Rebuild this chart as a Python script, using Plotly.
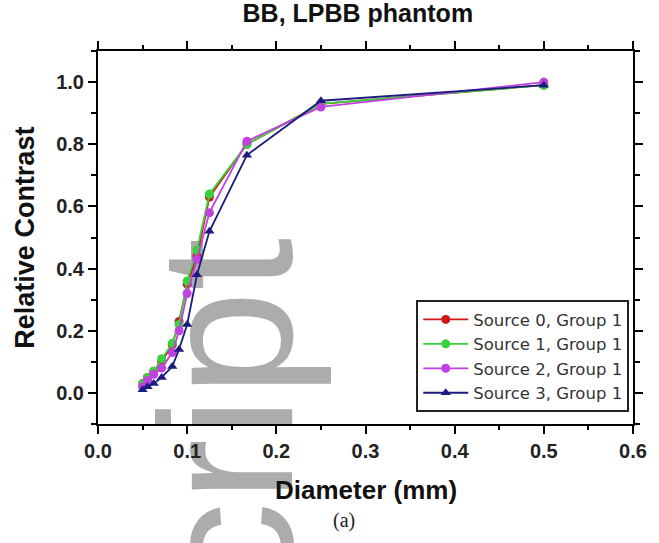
import plotly.graph_objects as go

# Bead diameters (mm) and measured relative contrast per source
diameter = [0.05, 0.0556, 0.0625, 0.0714, 0.0833, 0.0909, 0.1, 0.111, 0.125, 0.167, 0.25, 0.5]
source0 = [0.03, 0.05, 0.07, 0.10, 0.155, 0.23, 0.35, 0.44, 0.63, 0.80, 0.93, 0.99]
source1 = [0.03, 0.05, 0.07, 0.11, 0.16, 0.22, 0.36, 0.46, 0.64, 0.80, 0.93, 0.99]
source2 = [0.02, 0.04, 0.06, 0.08, 0.13, 0.20, 0.32, 0.43, 0.58, 0.81, 0.92, 1.00]
source3 = [0.01, 0.02, 0.03, 0.05, 0.085, 0.14, 0.22, 0.38, 0.52, 0.765, 0.94, 0.99]

series_names = ["Source 0, Group 1", "Source 1, Group 1", "Source 2, Group 1", "Source 3, Group 1"]
series_values = [source0, source1, source2, source3]
colors = ["#d01818", "#3ad23a", "#c040e0", "#1c1c80"]
symbols = ["circle", "circle", "circle", "triangle-up"]

fig = go.Figure()
for name, vals, col, sym in zip(series_names, series_values, colors, symbols):
    fig.add_trace(go.Scatter(
        x=diameter, y=vals, name=name, mode="lines+markers",
        line=dict(color=col, width=1.8),
        marker=dict(color=col, symbol=sym, size=9),
    ))

axis_common = dict(
    showline=True, linecolor="black", linewidth=2, mirror="allticks",
    ticks="outside", ticklen=8, tickwidth=2, tickcolor="black",
    showgrid=False, zeroline=False,
    tickfont=dict(family="Liberation Sans", size=20, color="#222", weight="bold"),
    tickformat=".1f",
)

fig.update_layout(
    width=659, height=543,
    margin=dict(l=98, r=19, t=51, b=119),
    paper_bgcolor="white", plot_bgcolor="white",
    title=dict(text="<b>BB, LPBB phantom</b>", x=0.543, xanchor="center", y=0.975, yanchor="middle",
               font=dict(family="Liberation Sans", size=25, color="#111")),
    xaxis=dict(range=[0, 0.6], dtick=0.1, tick0=0,
               minor=dict(dtick=0.05, ticklen=4, tickwidth=1.5, tickcolor="black", ticks="outside"),
               **axis_common),
    yaxis=dict(range=[-0.1, 1.1], dtick=0.2, tick0=0,
               minor=dict(dtick=0.1, ticklen=5, tickwidth=1.5, tickcolor="black", ticks="outside"),
               **axis_common),
    legend=dict(x=0.993, xanchor="right", y=0.332, yanchor="top",
                bgcolor="white", bordercolor="#222", borderwidth=2,
                font=dict(family="DejaVu Sans", size=16.5, color="#333"),
                itemwidth=45, tracegroupgap=0),
    showlegend=True,
)

# Grey manuscript watermark running up the page, kept beneath the data
fig.add_shape(type="rect", xref="paper", yref="paper", x0=0.10, x1=0.31, y0=-0.5, y1=0.28,
              layer="below", line=dict(width=0), fillcolor="rgba(0,0,0,0)",
              label=dict(text="script", textangle=-90, textposition="middle center",
                         font=dict(family="Liberation Sans", size=190, color="rgba(165,165,165,0.92)")))

fig.add_annotation(text="<b>Diameter (mm)</b>", xref="paper", yref="paper", x=0.5, y=-0.178,
                   xanchor="center", yanchor="middle", showarrow=False,
                   font=dict(family="Liberation Sans", size=26, color="#111"))
fig.add_annotation(text="<b>Relative Contrast</b>", xref="paper", yref="paper", x=-0.138, y=0.5,
                   textangle=-90, xanchor="center", yanchor="middle", showarrow=False,
                   font=dict(family="Liberation Sans", size=27, color="#111"))
fig.add_annotation(text="(a)", xref="paper", yref="paper", x=0.46, y=-0.258,
                   xanchor="center", yanchor="middle", showarrow=False,
                   font=dict(family="Liberation Serif", size=20, color="#222"))

fig.write_html("out.html")
